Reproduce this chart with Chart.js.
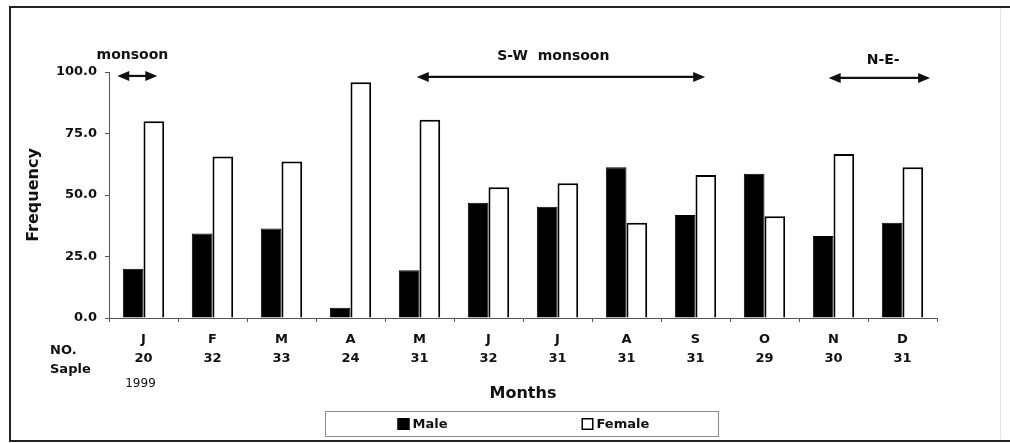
<!DOCTYPE html>
<html>
<head>
<meta charset="utf-8">
<script src="https://cdn.jsdelivr.net/npm/chart.js@4/dist/chart.umd.min.js"></script>
<style>
  html, body { margin: 0; padding: 0; background: #fff; }
  #wrap { position: relative; width: 1010px; height: 443px; }
</style>
</head>
<body>
<div id="wrap"><canvas id="c" width="1010" height="443"></canvas></div>
<script>
// Monthly sex ratio of the catch, 1999
const months = ['J', 'F', 'M', 'A', 'M', 'J', 'J', 'A', 'S', 'O', 'N', 'D'];
const sampleSizes = [20, 32, 33, 24, 31, 32, 31, 31, 31, 29, 30, 31];
const maleFreq = [20.0, 34.4, 36.4, 4.2, 19.4, 46.9, 45.2, 61.3, 41.9, 58.6, 33.3, 38.7];
const femaleFreq = [80.0, 65.6, 63.6, 95.8, 80.6, 53.1, 54.8, 38.7, 58.1, 41.4, 66.7, 61.3];
const yTicks = [0, 25, 50, 75, 100];

// Monsoon periods, in month-index units along the x axis
const seasons = [
  { label: 'monsoon', from: -0.38, to: 0.2, labelAt: -0.16 },
  { label: 'S-W  monsoon', from: 3.96, to: 8.14, labelAt: 5.94 },
  { label: 'N-E-', from: 9.93, to: 11.4, labelAt: 10.72 }
];

const FONT = 'DejaVu Sans';
const INK = '#111';
const AXIS = '#555';

const xLabels = months.map((m, i) => [m, String(sampleSizes[i])]);

function arrow(ctx, x1, x2, y) {
  const head = 12, half = 5;
  ctx.save();
  ctx.strokeStyle = INK;
  ctx.fillStyle = INK;
  ctx.lineWidth = 2.2;
  ctx.beginPath();
  ctx.moveTo(x1 + head - 2, y);
  ctx.lineTo(x2 - head + 2, y);
  ctx.stroke();
  ctx.beginPath();
  ctx.moveTo(x1, y); ctx.lineTo(x1 + head, y - half); ctx.lineTo(x1 + head, y + half); ctx.closePath();
  ctx.fill();
  ctx.beginPath();
  ctx.moveTo(x2, y); ctx.lineTo(x2 - head, y - half); ctx.lineTo(x2 - head, y + half); ctx.closePath();
  ctx.fill();
  ctx.restore();
}

const decorations = {
  id: 'decorations',
  afterDraw(chart) {
    const { ctx, scales: { x, y }, chartArea } = chart;
    ctx.save();

    // outer frame
    ctx.strokeStyle = '#222';
    ctx.lineWidth = 2;
    ctx.beginPath();
    ctx.moveTo(1010, 7); ctx.lineTo(10, 7); ctx.lineTo(10, 441); ctx.lineTo(1010, 441);
    ctx.stroke();
    ctx.strokeStyle = '#e2e2e2';
    ctx.lineWidth = 1;
    ctx.beginPath();
    ctx.moveTo(1000.5, 9); ctx.lineTo(1000.5, 439);
    ctx.stroke();

    // season arrows and labels
    const arrowY = [98.4, 98.0, 97.6];
    const labelY = [106.6, 106.2, 104.6];
    ctx.font = `bold 14px "${FONT}"`;
    ctx.fillStyle = INK;
    ctx.textAlign = 'center';
    ctx.textBaseline = 'middle';
    seasons.forEach((s, i) => {
      arrow(ctx, x.getPixelForValue(s.from), x.getPixelForValue(s.to), y.getPixelForValue(arrowY[i]));
      ctx.fillText(s.label, x.getPixelForValue(s.labelAt), y.getPixelForValue(labelY[i]));
    });

    // row captions beside the month labels
    ctx.font = `bold 13px "${FONT}"`;
    ctx.textAlign = 'left';
    ctx.fillText('NO.', 50, 351);
    ctx.fillText('Saple', 50, 370);
    ctx.font = `12px "${FONT}"`;
    ctx.textAlign = 'center';
    ctx.fillText('1999', x.getPixelForValue(0) - 3, 384);

    // legend box
    const cx = (chartArea.left + chartArea.right) / 2 - 1.5;
    const bw = 393, bh = 25, by = 411;
    ctx.strokeStyle = '#8a8a8a';
    ctx.lineWidth = 1;
    ctx.strokeRect(Math.round(cx - bw / 2) + 0.5, by + 0.5, bw, bh);
    const items = chart.data.datasets;
    const itemX = [cx - 124, cx + 60];
    ctx.font = `bold 13px "${FONT}"`;
    ctx.textAlign = 'left';
    items.forEach((ds, i) => {
      const sx = itemX[i];
      const sy = by + 7;
      ctx.fillStyle = ds.backgroundColor;
      ctx.fillRect(sx, sy, 12, 12);
      ctx.strokeStyle = ds.borderColor;
      ctx.lineWidth = 1.5;
      ctx.strokeRect(sx + 0.75, sy + 0.75, 10.5, 10.5);
      ctx.fillStyle = INK;
      ctx.fillText(ds.label, sx + 15, by + 13.5);
    });

    ctx.restore();
  }
};

new Chart(document.getElementById('c'), {
  type: 'bar',
  data: {
    labels: xLabels,
    datasets: [
      {
        label: 'Male',
        data: maleFreq,
        backgroundColor: '#000',
        borderColor: '#000',
        borderWidth: 1,
        categoryPercentage: 0.6,
        barPercentage: 1.0
      },
      {
        label: 'Female',
        data: femaleFreq,
        backgroundColor: '#fff',
        borderColor: '#000',
        borderWidth: 2,
        categoryPercentage: 0.6,
        barPercentage: 1.0
      }
    ]
  },
  options: {
    responsive: false,
    animation: false,
    layout: { padding: { left: 12, top: 72, right: 73, bottom: 40 } },
    plugins: {
      legend: { display: false },
      tooltip: { enabled: false }
    },
    scales: {
      x: {
        afterFit(scale) { scale.height = 85; },
        border: { display: true, color: AXIS, width: 1 },
        grid: { display: true, drawOnChartArea: false, drawTicks: true, tickLength: 4, color: AXIS, offset: true },
        ticks: {
          color: INK,
          padding: 8,
          maxRotation: 0,
          autoSkip: false,
          font: { family: FONT, size: 13, weight: 'bold', lineHeight: 1.46 }
        },
        title: {
          display: true,
          text: 'Months',
          color: INK,
          padding: { top: 0, bottom: 0 },
          font: { family: FONT, size: 16, weight: 'bold', lineHeight: 1.2 }
        }
      },
      y: {
        min: 0,
        max: 100,
        afterFit(scale) { scale.width = 97; },
        afterBuildTicks(scale) { scale.ticks = yTicks.map(v => ({ value: v })); },
        border: { display: true, color: AXIS, width: 1 },
        grid: { display: true, drawOnChartArea: false, drawTicks: true, tickLength: 4, color: AXIS },
        ticks: {
          color: INK,
          padding: 8,
          font: { family: FONT, size: 13, weight: 'bold' },
          callback: v => Number(v).toFixed(1)
        },
        title: {
          display: true,
          text: 'Frequency',
          color: INK,
          padding: { top: 12, bottom: 0 },
          font: { family: FONT, size: 16, weight: 'bold', lineHeight: 1.2 }
        }
      }
    }
  },
  plugins: [decorations]
});
</script>
</body>
</html>
